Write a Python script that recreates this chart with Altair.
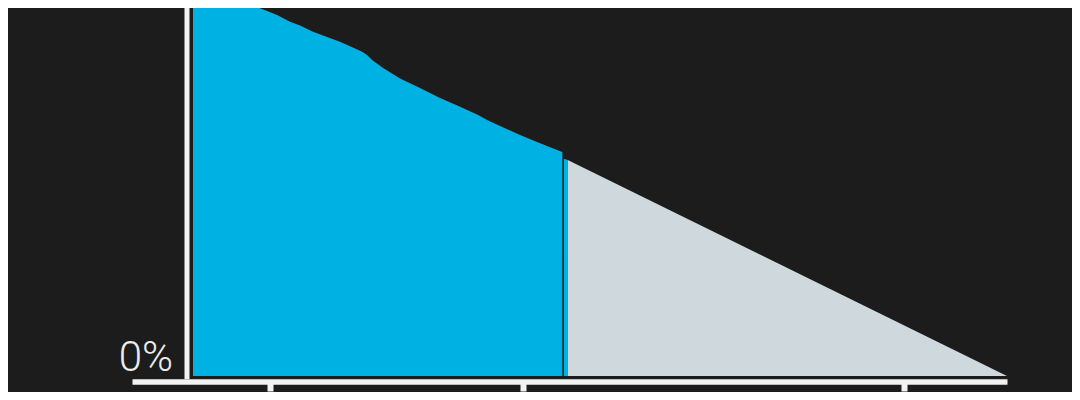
import altair as alt
import pandas as pd

# ---- data ----
hist_years = [1993.94, 1995.68, 1997.81, 1998.99, 2000.57, 2001.59, 2002.38, 2003.40,
              2005.53, 2006.72, 2007.27, 2007.66, 2008.06, 2008.93, 2010.27, 2011.84,
              2013.42, 2015.00, 2016.42, 2017.13, 2018.15, 2019.73, 2021.31, 2023.10]
hist_values = [99.5, 96.75, 94.0, 92.25, 90.25, 88.58, 87.63, 86.08,
               83.58, 81.88, 81.08, 80.25, 79.0, 77.0, 74.38, 72.0,
               69.5, 67.33, 65.25, 64.0, 62.5, 60.25, 58.17, 55.92]

proj_years = [2023.10, 2023.49, 2023.49, 2058.13]
proj_values = [54.4, 54.0, 54.0, 0.0]
proj_phase = ["elapsed", "elapsed", "remaining", "remaining"]

now_year = [2023.13]
now_value = [hist_values[-1]]

x_domain = [1989.13, 2058.13]
y_domain = [0, 92]
x_ticks = [2000, 2020, 2050]
y_ticks = [0]

BG = "#1c1c1c"
BLUE = "#00b1e4"
GRAY = "#cfd8dd"
AXIS = "#f2f2f2"

hist = pd.DataFrame({"year": hist_years, "value": hist_values})
proj = pd.DataFrame({"year": proj_years, "value": proj_values, "phase": proj_phase})
now = pd.DataFrame({"year": now_year, "value": now_value, "base": [0]})

x_scale = alt.Scale(domain=x_domain, nice=False, zero=False)
y_scale = alt.Scale(domain=y_domain, nice=False, zero=False)

x_axis = alt.Axis(values=x_ticks, labels=False, title=None, grid=False,
                  domainColor=AXIS, domainWidth=5.5, domainCap="butt",
                  tickColor=AXIS, tickWidth=6, tickSize=9.5, offset=5.5)
y_axis = alt.Axis(values=y_ticks, labelExpr="datum.value + '%'", title=None, grid=False,
                  domainColor=AXIS, domainWidth=5, domainCap="square",
                  ticks=False, offset=-54.5, labelPadding=14,
                  labelFont="Roboto", labelFontSize=42, labelFontWeight=300,
                  labelColor="#ececec", labelAlign="right", labelBaseline="alphabetic",
                  labelOffset=-6, labelFlush=False)

hist_area = alt.Chart(hist).mark_area(color=BLUE, clip=True).encode(
    x=alt.X("year:Q", scale=x_scale, axis=x_axis),
    y=alt.Y("value:Q", scale=y_scale, axis=y_axis, stack=None),
)

proj_area = alt.Chart(proj).mark_area(clip=True).encode(
    x=alt.X("year:Q", scale=x_scale),
    y=alt.Y("value:Q", scale=y_scale, stack=None),
    color=alt.Color("phase:N", scale=alt.Scale(domain=["elapsed", "remaining"],
                                               range=[BLUE, GRAY]), legend=None),
    detail="phase:N",
)

now_rule = alt.Chart(now).mark_rule(color=BG, strokeWidth=1.5, clip=True).encode(
    x=alt.X("year:Q", scale=x_scale),
    y=alt.Y("value:Q", scale=y_scale),
    y2="base:Q",
)

chart = alt.layer(hist_area, proj_area, now_rule).properties(
    width=875,
    height=368,
    background=BG,
    autosize=alt.AutoSizeParams(type="none"),
    padding={"left": 124, "top": 0, "right": 65, "bottom": 16},
).configure_view(stroke=None)

chart.save("out.html", embed_options={"renderer": "svg", "actions": False})
